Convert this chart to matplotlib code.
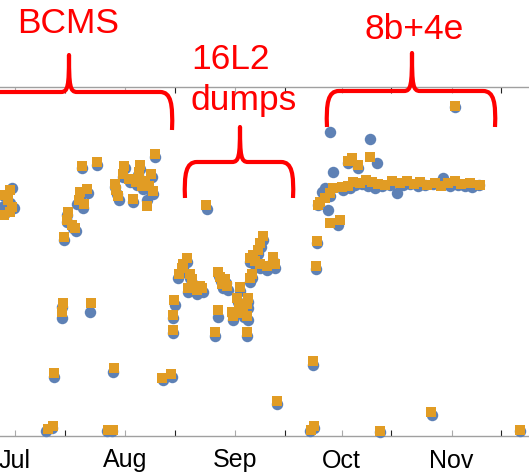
import numpy as np
import matplotlib
matplotlib.use("Agg")
import matplotlib.pyplot as plt
import matplotlib.dates as mdates
from matplotlib.path import Path
from matplotlib.patches import PathPatch

# days since 2017-07-01, value in arbitrary units (0-100)
blue_day = [-0.9, -3.1, -1.4, -0.3, -2.8, -3.7,
            8.7, 10.4, 11.0, 13.2, 13.2, 21.1, 27.6, 25.9, 27.3,
            18.9, 23.1, 18.3, 20.6, 17.5, 19.2, 14.6, 14.6, 16.3, 17.2, 13.8,
            39.4, 31.0, 30.4, 35.2, 34.6, 38.6, 32.4, 34.4, 36.1, 28.2, 28.7, 29.3, 38.0, 38.9, 33.2, 37.2, 36.3,
            41.7, 44.2, 44.5, 44.5, 45.1,
            54.1,
            48.5, 47.3, 46.8, 45.9, 49.3, 49.9, 50.1, 52.1, 51.3, 53.0, 48.7,
            57.5, 58.0, 59.4, 58.6, 60.0, 63.4,
            62.8, 65.6, 65.6, 63.4, 61.4, 61.4, 64.5, 65.6,
            57.2, 56.3, 65.4,
            69.9, 69.3, 68.5, 67.0, 66.2, 67.6, 72.7, 73.2, 71.0, 69.0, 66.8, 66.2,
            73.8,
            83.9, 83.1, 84.2, 84.8, 85.1, 88.7, 100.0, 123.9,
            102.0, 93.8, 96.6, 89.6, 87.3, 86.5, 88.2, 91.0, 85.4, 88.7,
            92.4, 94.4, 95.8, 97.7, 99.4, 101.4, 103.4, 105.6, 107.6, 109.3,
            111.3, 113.5, 115.5, 117.7, 120.6, 122.5, 124.8, 126.8, 128.7, 130.7,
            102.8, 117.5, 142.3]
blue_val = [71.1, 68.8, 66.8, 65.3, 63.9, 65.6,
            1.4, 2.3, 16.9, 37.0, 33.8, 35.5, 18.3, 1.4, 1.4,
            76.8, 77.7, 68.5, 69.6, 66.5, 65.3, 63.3, 61.3, 59.6, 58.7, 56.2,
            79.9, 76.8, 74.2, 76.5, 74.8, 74.2, 72.8, 71.9, 70.8, 71.3, 69.3, 67.6, 70.5, 69.3, 67.0, 67.6, 72.2,
            16.0, 16.9, 29.5, 33.8, 37.5,
            65.0,
            49.9, 48.1, 46.7, 45.3, 45.3, 43.8, 41.8, 41.8, 40.7, 41.3, 41.3,
            45.8, 44.4, 43.8, 42.4, 41.8, 41.5,
            38.4, 38.4, 36.7, 35.5, 34.4, 33.2, 34.1, 33.2,
            34.1, 28.7, 28.7,
            56.2, 54.2, 52.1, 50.7, 49.9, 49.0, 50.1, 48.1, 47.6, 48.1, 45.3, 44.1,
            9.2,
            20.3, 1.4, 2.3, 47.9, 55.3, 87.1, 85.1, 94.3,
            78.2, 78.2, 76.8, 75.6, 71.1, 69.9, 64.8, 60.5, 66.2, 68.8,
            70.5, 71.1, 71.9, 72.2, 71.6, 71.1, 71.6, 71.9, 69.6, 71.9,
            72.2, 71.6, 71.9, 72.2, 73.9, 71.6, 71.9, 71.6, 71.3, 71.9,
            1.1, 6.0, 1.4]

orange_day = [-1.4, -2.8, -2.0, -0.9, -3.1, -1.4,
              9.3, 10.7, 11.0, 13.5, 13.2, 21.4, 27.9, 26.2, 27.6,
              18.9, 23.1, 18.3, 20.3, 18.0, 19.4, 14.9, 14.6, 16.1, 16.9, 13.8,
              39.4, 30.7, 30.4, 35.2, 34.9, 38.3, 32.1, 34.1, 35.8, 28.2, 28.5, 29.0, 37.7, 38.9, 33.2, 37.2, 36.6,
              41.4, 43.9, 44.5, 44.5, 44.8,
              53.8,
              48.5, 47.3, 47.0, 46.2, 49.3, 49.9, 50.1, 52.1, 51.3, 52.7, 48.7,
              57.2, 57.7, 59.2, 58.3, 59.7, 63.4,
              62.5, 65.6, 65.4, 63.1, 61.1, 61.4, 64.2, 65.4,
              57.2, 56.3, 65.4,
              69.9, 69.0, 68.5, 67.0, 66.2, 67.6, 72.7, 73.2, 71.0, 69.0, 66.8, 66.2,
              73.8,
              83.9, 83.4, 84.2, 84.8, 85.1, 123.9,
              100.0, 94.9, 93.8, 96.6, 89.6, 88.7, 87.3, 85.9, 85.4, 88.7, 91.5,
              92.1, 93.8, 95.2, 97.2, 98.9, 100.6, 102.3, 104.2, 106.2, 108.5, 110.4,
              112.4, 114.1, 116.1, 118.3, 120.0, 122.0, 123.9, 125.6, 128.2, 131.0,
              102.8, 117.2, 142.3]
orange_val = [70.5, 69.1, 67.6, 65.6, 63.3, 64.2,
              2.0, 2.9, 18.1, 38.1, 35.5, 38.1, 19.5, 1.7, 1.7,
              77.4, 78.5, 69.9, 70.8, 67.6, 66.5, 64.2, 61.9, 60.5, 59.6, 57.0,
              80.8, 77.4, 75.1, 77.7, 75.6, 75.1, 73.6, 72.8, 71.6, 72.2, 70.5, 68.8, 71.6, 70.2, 67.9, 65.9, 73.1,
              16.6, 17.8, 30.4, 34.7, 39.0,
              66.2,
              51.0, 49.3, 48.1, 46.4, 46.4, 45.0, 43.0, 43.0, 41.8, 42.4, 42.4,
              47.0, 45.6, 45.0, 43.6, 43.0, 42.7,
              39.5, 39.5, 37.8, 36.7, 35.5, 34.4, 35.2, 34.4,
              36.1, 29.8, 29.8,
              57.3, 55.3, 53.3, 51.9, 51.0, 50.1, 51.3, 49.3, 48.7, 49.3, 46.4, 45.3,
              10.0,
              21.5, 1.7, 2.9, 48.7, 55.9, 94.6,
              79.9, 79.7, 78.8, 77.7, 71.1, 69.6, 68.2, 67.0, 66.2, 61.0, 61.9,
              71.3, 71.6, 72.8, 72.5, 73.4, 72.8, 72.2, 71.9, 73.1, 72.5, 73.1,
              72.2, 72.8, 71.9, 72.5, 71.6, 72.5, 73.1, 72.2, 72.5, 71.9,
              1.4, 6.9, 1.7]

start = mdates.datestr2num("2017-07-01")

W, H = 529, 476
fig = plt.figure(figsize=(W / 100, H / 100), dpi=100)
ax = fig.add_axes([0, 40 / H, 1, 349 / H])

ax.scatter(start + np.array(blue_day), blue_val, s=68, marker="o",
           color="#5E81B5", linewidths=0, clip_on=False, zorder=3)
ax.scatter(start + np.array(orange_day), orange_val, s=44, marker="s",
           color="#E19C24", linewidths=0, clip_on=False, zorder=4)

ax.set_xlim(start - 4.23, start + 144.8)
ax.set_ylim(0, 100)
ax.xaxis.set_major_locator(mdates.MonthLocator())
ax.xaxis.set_major_formatter(mdates.DateFormatter("%b"))
ax.xaxis.set_minor_locator(mdates.DayLocator(bymonthday=15))
ax.set_yticks([])
for s in ["left", "right"]:
    ax.spines[s].set_visible(False)
for s in ["top", "bottom"]:
    ax.spines[s].set_color("#a0a0a0")
    ax.spines[s].set_linewidth(1.0)
ax.tick_params(axis="x", which="both", direction="in", top=True, length=4, width=0.8)
ax.tick_params(axis="x", which="major", color="#aaaaaa", pad=9, labelsize=18)
ax.tick_params(axis="x", which="minor", color="#222222")
for lab in ax.get_xticklabels():
    lab.set_family("Liberation Sans")


def brace(xl, xr, xm, yh, yt, ye):
    # curly brace in pixel coordinates (y downward)
    pts = [(xl, ye), (xl - 1, yh + 12), (xl + 1, yh), (xl + 12, yh),
           (xm - 8, yh), (xm - 1, yh), (xm, yh - 6), (xm, yt),
           (xm, yh - 6), (xm + 1, yh), (xm + 8, yh),
           (xr - 12, yh), (xr - 1, yh), (xr + 1, yh + 12), (xr, ye)]
    codes = [Path.MOVETO, Path.CURVE4, Path.CURVE4, Path.CURVE4,
             Path.LINETO, Path.CURVE4, Path.CURVE4, Path.CURVE4,
             Path.CURVE4, Path.CURVE4, Path.CURVE4,
             Path.LINETO, Path.CURVE4, Path.CURVE4, Path.CURVE4]
    verts = [(x / W, 1 - y / H) for x, y in pts]
    p = PathPatch(Path(verts, codes), transform=fig.transFigure, fill=False,
                  edgecolor="#ff0000", lw=3, joinstyle="round", capstyle="butt",
                  zorder=10)
    fig.add_artist(p)


brace(-34, 172, 69, 92, 55, 130)
brace(185, 293, 240, 162, 127, 198)
brace(327, 495, 412, 91, 53, 127)

tkw = dict(color="#ff0000", fontsize=25.5, family="Liberation Sans", va="baseline")
fig.text(68 / W, 1 - 33 / H, "BCMS", ha="center", **tkw)
fig.text(191 / W, 1 - 69 / H, "16L2", ha="left", **tkw)
fig.text(191 / W, 1 - 110 / H, "dumps", ha="left", **tkw)
fig.text(414 / W, 1 - 39 / H, "8b+4e", ha="center", **tkw)

fig.savefig("out.png", dpi=100)
